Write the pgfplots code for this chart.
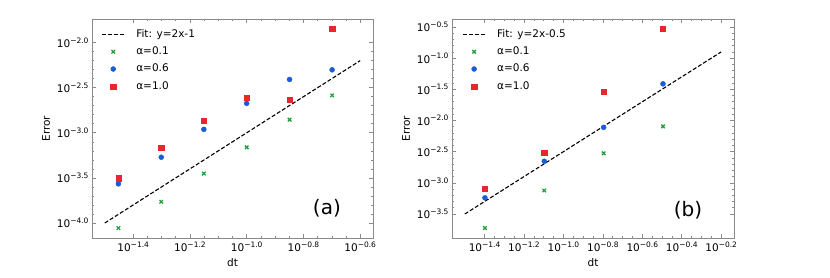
\documentclass[border=0pt]{standalone}
\usepackage{pgfplots}
\pgfplotsset{compat=1.18}
\usepackage{fontspec}
\setmainfont{DejaVu Sans}
\definecolor{cg}{HTML}{22A03C}
\definecolor{cb}{HTML}{1A5BD8}
\definecolor{cr}{HTML}{E8262B}
\definecolor{spine}{HTML}{8A8A8A}
\newcommand\tp[1]{10\raisebox{0.42em}{\fontsize{7.5}{8}\selectfont #1}}
\begin{document}
\begin{tikzpicture}
\useasboundingbox (0,0) rectangle (830pt,277pt);
\pgfplotsset{
  myaxis/.style={
    scale only axis, height=219pt, anchor=south west,
    axis line style={draw=spine, line width=0.8pt},
    every tick/.style={spine, line width=0.6pt},
    tick align=inside,
    major tick length=4pt, minor tick length=2pt,
    minor x tick num=3, minor y tick num=4,
    ticklabel style={font=\fontsize{10.5}{12}\selectfont},
    label style={font=\fontsize{10.5}{12}\selectfont},
    xlabel={dt}, ylabel={Error},
    /pgf/number format/assume math mode=true,
    legend cell align=left,
    legend style={draw=none, fill=none, anchor=north west, inner xsep=0pt, inner ysep=0pt,
      font=\fontsize{10.5}{12}\selectfont, row sep=4.8pt,
      nodes={inner sep=1pt, text height=8pt, text depth=2.5pt},
      /tikz/every odd column/.append style={column sep=10pt}},
  },
  fitline/.style={black, line width=1.1pt, dash pattern=on 4pt off 2pt,
    legend image code/.code={\draw[##1] (0pt,0pt) -- (23pt,0pt);}},
  mk/.style={only marks,
    legend image code/.code={\draw[mark repeat=2,mark phase=2,##1] plot coordinates {(0pt,0pt) (11.5pt,0pt) (23pt,0pt)};}},
}
% Panel (a)
\begin{axis}[myaxis, at={(92pt,39pt)}, width=281pt,
  xmin=-1.545, xmax=-0.555, ymin=-4.166, ymax=-1.739,
  xtick={-1.4,-1.2,-1.0,-0.8,-0.6},
  xticklabels={\tp{−1.4},\tp{−1.2},\tp{−1.0},\tp{−0.8},\tp{−0.6}},
  ytick={-4.0,-3.5,-3.0,-2.5,-2.0},
  yticklabels={\tp{−4.0},\tp{−3.5},\tp{−3.0},\tp{−2.5},\tp{−2.0}},
  legend style={at={(0.032,0.959)}},
]
\addplot[fitline] coordinates {(-1.5,-4.0) (-0.6,-2.2)};
\addlegendentry{Fit: y=2x-1}
\addplot[mk, mark=x, mark size=2.5pt, draw=cg, line width=1.3pt] coordinates {
(-1.452,-4.056) (-1.301,-3.765) (-1.151,-3.452) (-1.0,-3.161) (-0.849,-2.855) (-0.699,-2.586)};
\addlegendentry{α=0.1}
\addplot[mk, mark=*, mark size=2.5pt, draw=cb, fill=cb] coordinates {
(-1.452,-3.566) (-1.301,-3.271) (-1.151,-2.962) (-1.0,-2.674) (-0.849,-2.409) (-0.699,-2.302)};
\addlegendentry{α=0.6}
\addplot[mk, mark=square*, mark size=2.6pt, draw=cr, fill=cr] coordinates {
(-1.452,-3.503) (-1.301,-3.168) (-1.151,-2.866) (-1.0,-2.608) (-0.849,-2.637) (-0.699,-1.849)};
\addlegendentry{α=1.0}
\node[font=\fontsize{20}{22}\selectfont] at (axis description cs:0.836,0.137) {(a)};
\end{axis}
% Panel (b)
\begin{axis}[myaxis, at={(452pt,39pt)}, width=282pt,
  xmin=-1.565, xmax=-0.135, ymin=-3.885, ymax=-0.372,
  xtick={-1.4,-1.2,-1.0,-0.8,-0.6,-0.4,-0.2},
  xticklabels={\tp{−1.4},\tp{−1.2},\tp{−1.0},\tp{−0.8},\tp{−0.6},\tp{−0.4},\tp{−0.2}},
  ytick={-3.5,-3.0,-2.5,-2.0,-1.5,-1.0,-0.5},
  yticklabels={\tp{−3.5},\tp{−3.0},\tp{−2.5},\tp{−2.0},\tp{−1.5},\tp{−1.0},\tp{−0.5}},
  legend style={at={(0.035,0.959)}},
]
\addplot[fitline] coordinates {(-1.5,-3.5) (-0.2,-0.9)};
\addlegendentry{Fit: y=2x-0.5}
\addplot[mk, mark=x, mark size=2.5pt, draw=cg, line width=1.3pt] coordinates {
(-1.398,-3.725) (-1.097,-3.123) (-0.796,-2.526) (-0.495,-2.094)};
\addlegendentry{α=0.1}
\addplot[mk, mark=*, mark size=2.5pt, draw=cb, fill=cb] coordinates {
(-1.398,-3.240) (-1.097,-2.654) (-0.796,-2.110) (-0.495,-1.412)};
\addlegendentry{α=0.6}
\addplot[mk, mark=square*, mark size=2.6pt, draw=cr, fill=cr] coordinates {
(-1.398,-3.091) (-1.097,-2.515) (-0.796,-1.534) (-0.495,-0.532)};
\addlegendentry{α=1.0}
\node[font=\fontsize{20}{22}\selectfont] at (axis description cs:0.837,0.128) {(b)};
\end{axis}
\end{tikzpicture}
\end{document}
